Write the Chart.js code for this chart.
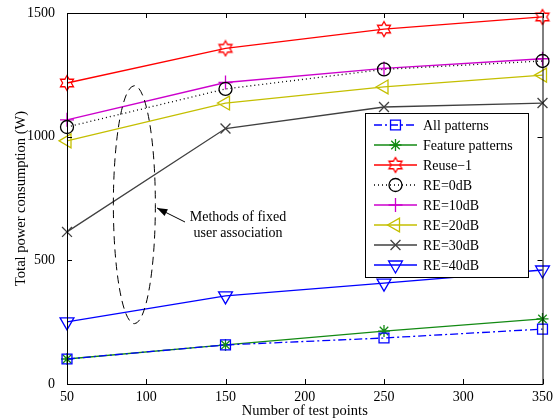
<!DOCTYPE html>
<html>
<head>
<meta charset="utf-8">
<script src="https://cdn.jsdelivr.net/npm/chart.js@4"></script>
<style>
  html, body { margin: 0; padding: 0; background: #fff; }
  #wrap { width: 558px; height: 420px; position: relative; }
</style>
</head>
<body>
<div id="wrap"><canvas id="powerChart"></canvas></div>
<script>
const testPoints = [50, 150, 250, 350];
const xTicks = [50, 100, 150, 200, 250, 300, 350];
const yTicks = [0, 500, 1000, 1500];

const allPatterns = [101, 158, 186, 222];
const featurePatterns = [101, 158, 214, 263];
const reuse1 = [1217, 1357, 1435, 1484];
const re0dB = [1039, 1193, 1272, 1306];
const re10dB = [1068, 1219, 1276, 1315];
const re20dB = [983, 1136, 1201, 1249];
const re30dB = [615, 1033, 1120, 1136];
const re40dB = [251, 356, 408, 461];

const SERIF = '"Liberation Serif", "DejaVu Serif", serif';

// hexagram (six-point star outline) marker for Reuse-1
function makeHexagram(color) {
    const c = document.createElement('canvas');
    c.width = 18; c.height = 18;
    const g = c.getContext('2d');
    g.strokeStyle = color; g.lineWidth = 1.3;
    const ro = 7.5, ri = ro / Math.sqrt(3), cx = 9, cy = 9;
    g.beginPath();
    for (let i = 0; i < 12; i++) {
        const a = -Math.PI / 2 + i * Math.PI / 6;
        const r = i % 2 === 0 ? ro : ri;
        const px = cx + r * Math.cos(a), py = cy + r * Math.sin(a);
        if (i === 0) g.moveTo(px, py); else g.lineTo(px, py);
    }
    g.closePath();
    g.stroke();
    return c;
}
const hexRed = makeHexagram('#ff0000');

function pts(arr) { return arr.map((v, i) => ({ x: testPoints[i], y: v })); }

const datasets = [
    { label: 'All patterns', data: pts(allPatterns), borderColor: '#0000ff', borderDash: [8, 3, 2, 3], pointStyle: 'rect', pointRadius: 7 },
    { label: 'Feature patterns', data: pts(featurePatterns), borderColor: '#138a13', pointStyle: 'star', pointRadius: 6 },
    { label: 'Reuse\u22121', data: pts(reuse1), borderColor: '#ff0000', pointStyle: hexRed, pointRadius: 8 },
    { label: 'RE=0dB', data: pts(re0dB), borderColor: '#000000', borderDash: [1, 3], pointStyle: 'circle', pointRadius: 6.5 },
    { label: 'RE=10dB', data: pts(re10dB), borderColor: '#cc00cc', pointStyle: 'cross', pointRadius: 7 },
    { label: 'RE=20dB', data: pts(re20dB), borderColor: '#c4bf00', pointStyle: 'triangle', pointRotation: 270, pointRadius: 8 },
    { label: 'RE=30dB', data: pts(re30dB), borderColor: '#404040', pointStyle: 'crossRot', pointRadius: 7 },
    { label: 'RE=40dB', data: pts(re40dB), borderColor: '#0000ff', pointStyle: 'triangle', pointRotation: 180, pointRadius: 8 }
].map(d => Object.assign({
    borderWidth: 1.3, pointBorderWidth: 1.3, pointBackgroundColor: 'rgba(0,0,0,0)',
    pointBorderColor: d.borderColor, fill: false, tension: 0, clip: false
}, d));

const boxAndExtras = {
    id: 'boxAndExtras',
    afterDraw(chart) {
        const ctx = chart.ctx;
        const { left, right, top, bottom } = chart.chartArea;
        const xs = chart.scales.x, ys = chart.scales.y;
        ctx.save();
        // axes box
        ctx.strokeStyle = '#000'; ctx.lineWidth = 1;
        ctx.strokeRect(left + 0.5, top + 0.5, right - left, bottom - top);
        // inward ticks
        ctx.beginPath();
        xTicks.forEach(v => {
            const px = Math.round(xs.getPixelForValue(v)) + 0.5;
            ctx.moveTo(px, bottom); ctx.lineTo(px, bottom - 5);
            ctx.moveTo(px, top); ctx.lineTo(px, top + 5);
        });
        yTicks.forEach(v => {
            const py = Math.round(ys.getPixelForValue(v)) + 0.5;
            ctx.moveTo(left, py); ctx.lineTo(left + 5, py);
            ctx.moveTo(right, py); ctx.lineTo(right - 5, py);
        });
        ctx.stroke();

        // dashed ellipse annotation
        const ecx = xs.getPixelForValue(92.5), ecy = ys.getPixelForValue(725);
        ctx.setLineDash([8, 5]);
        ctx.lineWidth = 1;
        ctx.beginPath();
        ctx.ellipse(ecx, ecy, 21, 119, 0.0, 0, Math.PI * 2);
        ctx.stroke();
        ctx.setLineDash([]);

        // arrow
        const ax0 = 185, ay0 = 222, ax1 = 157, ay1 = 208;
        ctx.beginPath(); ctx.moveTo(ax0, ay0); ctx.lineTo(ax1, ay1); ctx.stroke();
        const ang = Math.atan2(ay1 - ay0, ax1 - ax0);
        ctx.fillStyle = '#000';
        ctx.beginPath();
        ctx.moveTo(ax1, ay1);
        ctx.lineTo(ax1 - 11 * Math.cos(ang - 0.35), ay1 - 11 * Math.sin(ang - 0.35));
        ctx.lineTo(ax1 - 11 * Math.cos(ang + 0.35), ay1 - 11 * Math.sin(ang + 0.35));
        ctx.closePath(); ctx.fill();

        ctx.font = '14px ' + SERIF;
        ctx.textAlign = 'center'; ctx.textBaseline = 'middle';
        ctx.fillText('Methods of fixed', 238, 217);
        ctx.fillText('user association', 238, 233);

        // legend box
        const lx = 365, ly = 113, lw = 163, lh = 164;
        ctx.fillStyle = '#fff';
        ctx.fillRect(lx, ly, lw, lh);
        ctx.strokeStyle = '#000';
        ctx.strokeRect(lx + 0.5, ly + 0.5, lw, lh);
        chart.data.datasets.forEach((ds, i) => {
            const ry = ly + 12 + i * 20;
            ctx.save();
            ctx.strokeStyle = ds.borderColor; ctx.lineWidth = ds.borderWidth;
            ctx.setLineDash(ds.borderDash || []);
            ctx.beginPath(); ctx.moveTo(374, ry); ctx.lineTo(417, ry); ctx.stroke();
            ctx.setLineDash([]);
            ctx.lineWidth = ds.pointBorderWidth;
            ctx.fillStyle = 'rgba(0,0,0,0)';
            Chart.helpers.drawPoint(ctx, {
                pointStyle: ds.pointStyle, rotation: ds.pointRotation || 0,
                radius: ds.pointRadius, borderWidth: ds.pointBorderWidth
            }, 395.5, ry);
            ctx.restore();
            ctx.fillStyle = '#000';
            ctx.font = '14px ' + SERIF;
            ctx.textAlign = 'left'; ctx.textBaseline = 'middle';
            ctx.fillText(ds.label, 423, ry + 1);
        });
        ctx.restore();
    }
};

new Chart(document.getElementById('powerChart'), {
    type: 'line',
    data: { datasets },
    options: {
        responsive: true, maintainAspectRatio: false, animation: false,
        layout: { padding: { left: 0, right: 15, top: 13, bottom: 0 } },
        plugins: { legend: { display: false }, tooltip: { enabled: false } },
        scales: {
            x: {
                type: 'linear', min: 50, max: 350,
                afterBuildTicks: s => { s.ticks = xTicks.map(v => ({ value: v })); },
                afterFit: s => { s.height = 36; },
                grid: { display: false, drawTicks: false }, border: { display: false },
                ticks: { color: '#000', font: { family: SERIF, size: 14 }, padding: 5, maxRotation: 0, callback: v => String(v) },
                title: { display: true, text: 'Number of test points', color: '#000', font: { family: SERIF, size: 14.5 }, padding: { top: 2, bottom: 0 } }
            },
            y: {
                type: 'linear', min: 0, max: 1500,
                afterBuildTicks: s => { s.ticks = yTicks.map(v => ({ value: v })); },
                afterFit: s => { s.width = 67; },
                grid: { display: false }, border: { display: false },
                ticks: { color: '#000', font: { family: SERIF, size: 14 }, padding: 4, callback: v => String(v) },
                title: { display: true, text: 'Total power consumption (W)', color: '#000', font: { family: SERIF, size: 14.5 }, padding: { top: 12, bottom: 0 } }
            }
        }
    },
    plugins: [boxAndExtras]
});
</script>
</body>
</html>
